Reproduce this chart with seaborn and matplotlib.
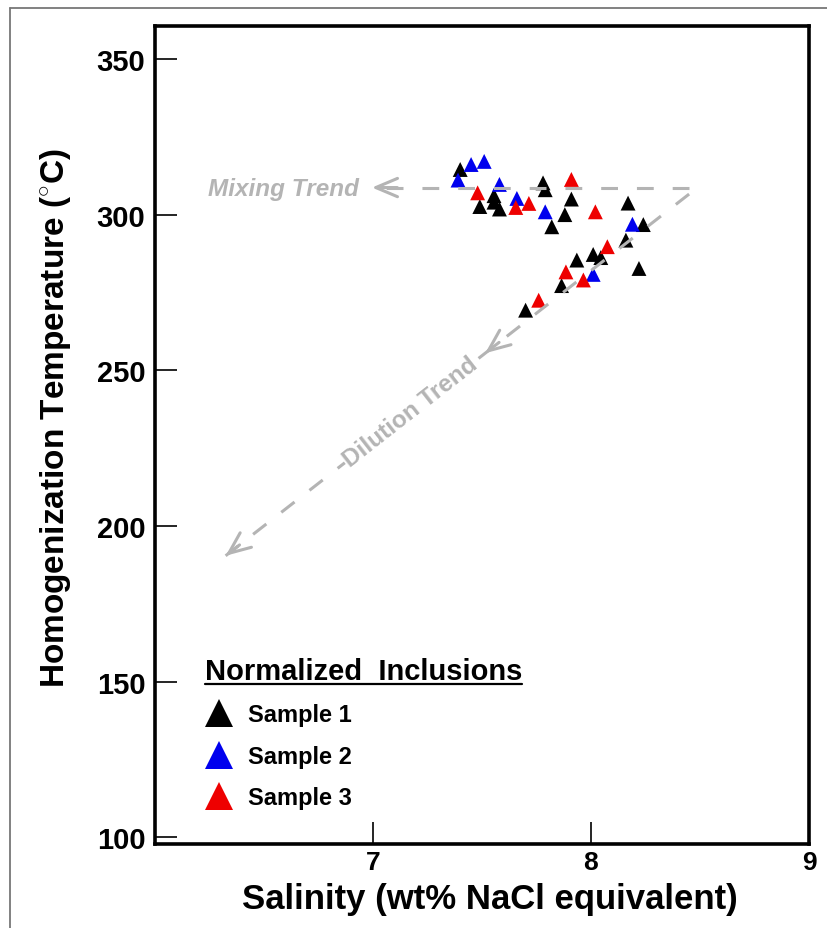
import numpy as np
import pandas as pd
import matplotlib
matplotlib.use('Agg')
import matplotlib.pyplot as plt
import seaborn as sns
from matplotlib.lines import Line2D

# ---- data ----
s1_x = [7.40, 7.49, 7.555, 7.555, 7.58, 7.78, 7.79, 7.91, 7.88, 7.82, 8.17, 8.24,
        8.16, 8.01, 8.045, 7.935, 7.865, 8.22, 7.70]
s1_y = [314.5, 302.6, 306.1, 304.0, 301.8, 310.2, 308.0, 305.0, 300.0, 296.1, 303.7, 296.8,
        291.8, 287.2, 286.2, 285.4, 277.2, 282.7, 269.3]
s2_x = [7.45, 7.51, 7.39, 7.58, 7.66, 7.79, 8.19, 8.01]
s2_y = [316.1, 317.1, 311.1, 309.7, 305.2, 300.9, 296.9, 280.8]
s3_x = [7.48, 7.655, 7.715, 7.91, 8.02, 8.075, 7.885, 7.965, 7.76]
s3_y = [307.0, 302.3, 303.6, 311.3, 300.9, 289.7, 281.6, 279.0, 272.5]

sample_names = ["Sample 1", "Sample 2", "Sample 3"]
sample_colors = ["#000000", "#0000ee", "#ee0000"]

mixing_x = [8.45, 6.995]
mixing_y = [308.7, 308.7]
dilution_x = [8.45, 6.324]
dilution_y = [306.6, 190.4]

x_ticks = [7, 8, 9]
y_ticks = [100, 150, 200, 250, 300, 350]

df = pd.DataFrame({
    "x": s1_x + s2_x + s3_x,
    "y": s1_y + s2_y + s3_y,
    "sample": [sample_names[0]] * len(s1_x) + [sample_names[1]] * len(s2_x)
              + [sample_names[2]] * len(s3_x),
})

sns.set_theme(style="white")
plt.rcParams['font.family'] = ['Liberation Sans', 'DejaVu Sans']
plt.rcParams['mathtext.fontset'] = 'custom'
plt.rcParams['mathtext.rm'] = 'Liberation Sans'
plt.rcParams['mathtext.bf'] = 'Liberation Sans:bold'
for k in ['text.color', 'axes.labelcolor', 'xtick.color', 'ytick.color']:
    plt.rcParams[k] = 'black'
plt.rcParams['xtick.bottom'] = True
plt.rcParams['ytick.left'] = True

fig = plt.figure(figsize=(8.27, 9.29), dpi=100)
ax = fig.add_axes([155 / 827, 1 - 845 / 929, 654 / 827, 818 / 929])

sns.scatterplot(data=df, x="x", y="y", hue="sample", palette=sample_colors,
                marker="^", s=115, edgecolor=None, linewidth=0, ax=ax, zorder=3)

gray = "#b4b4b4"
ax.plot(mixing_x, mixing_y, color=gray, lw=2.2, ls=(0, (5.5, 6.2)), zorder=4)
ax.plot(dilution_x, dilution_y, color=gray, lw=2.2, ls=(0, (5.5, 6.2)), zorder=4)

# arrow heads
def head(xs, ys, frac, back=0.02):
    x0 = xs[0] + (xs[1] - xs[0]) * frac
    y0 = ys[0] + (ys[1] - ys[0]) * frac
    x1 = xs[0] + (xs[1] - xs[0]) * (frac - back)
    y1 = ys[0] + (ys[1] - ys[0]) * (frac - back)
    ax.annotate("", xy=(x0, y0), xytext=(x1, y1),
                arrowprops=dict(arrowstyle="->,head_length=1.3,head_width=0.55",
                                color=gray, lw=2.2, shrinkA=0, shrinkB=0),
                zorder=4)

head(mixing_x, mixing_y, 1.0, back=0.08)
head(dilution_x, dilution_y, 1.0, back=0.03)
head(dilution_x, dilution_y, 0.44, back=0.03)

ax.text(6.936, 308.3, "Mixing Trend", color=gray, fontsize=17.5, fontweight="bold",
        fontstyle="italic", ha="right", va="center", zorder=5)
ax.text(7.173, 236.6, "Dilution Trend", color=gray, fontsize=17.5, fontweight="bold",
        rotation=38, ha="center", va="center", rotation_mode="anchor", zorder=5,
        bbox=dict(facecolor="white", edgecolor="none", pad=1))

ax.set_xlim(6, 9)
ax.set_ylim(97.8, 360.6)
ax.set_xticks(x_ticks)
ax.set_yticks(y_ticks)
ax.tick_params(direction="in", length=16, width=1.2, color="black", pad=7)
ax.tick_params(axis="y", labelsize=21)
ax.tick_params(axis="x", labelsize=19, pad=4)
for lab in ax.get_xticklabels() + ax.get_yticklabels():
    lab.set_fontweight("bold")

for sp in ax.spines.values():
    sp.set_visible(True)
    sp.set_color("black")
    sp.set_linewidth(2.6)

ax.set_xlabel("Salinity (wt% NaCl equivalent)", fontsize=25, fontweight="bold")
ax.set_ylabel("Homogenization Temperature ($^{\\circ}$C)", fontsize=24, fontweight="bold")
ax.xaxis.set_label_coords(0.512, -0.047)
ax.yaxis.set_label_coords(-0.125, 0.522)

handles, labels = ax.get_legend_handles_labels()
leg = ax.legend(handles, labels, title="Normalized  Inclusions", frameon=False,
                loc="upper left", bbox_to_anchor=(205 / 827, 1 - 658 / 929),
                bbox_transform=fig.transFigure, borderpad=0, borderaxespad=0,
                markerscale=1.9, fontsize=17, title_fontsize=21,
                handlelength=1.2, handletextpad=0.6, labelspacing=0.78,
                alignment="left")
for t in leg.get_texts():
    t.set_fontweight("bold")
leg.get_title().set_fontweight("bold")

fig.canvas.draw()
bb = leg.get_title().get_window_extent()
fig.add_artist(Line2D([bb.x0 / 827, bb.x1 / 827], [(bb.y0 + 1) / 929] * 2,
                      transform=fig.transFigure, color="black", lw=1.6))

# figure border (top and left)
fig.add_artist(Line2D([10 / 827, 1.0], [1 - 9 / 929] * 2, transform=fig.transFigure,
                      color="#777777", lw=1.3))
fig.add_artist(Line2D([10 / 827] * 2, [0, 1 - 9 / 929], transform=fig.transFigure,
                      color="#777777", lw=1.3))

fig.savefig("out.png", dpi=100)
